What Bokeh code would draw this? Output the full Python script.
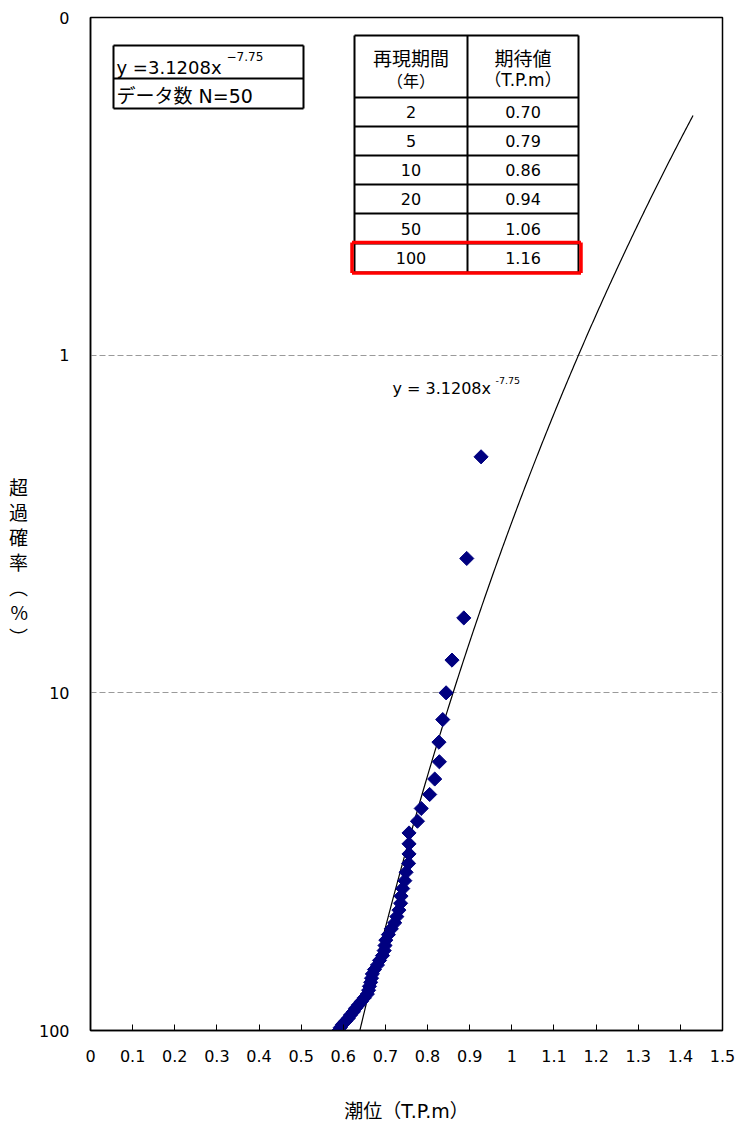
import numpy as np
from bokeh.plotting import figure
from bokeh.models import Range1d, FixedTicker, Label
from bokeh.embed import file_html
from bokeh.resources import INLINE

# ---------------- data ----------------
exceed_pct = [2, 4, 6, 8, 10, 12, 14, 16, 18, 20, 22, 24, 26, 28, 30, 32, 34, 36, 38, 40,
              42, 44, 46, 48, 50, 52, 54, 56, 58, 60, 62, 64, 66, 68, 70, 72, 74, 76, 78, 80,
              82, 84, 86, 88, 90, 92, 94, 96, 98, 100]
tide = [0.927, 0.893, 0.886, 0.858, 0.844, 0.836, 0.827, 0.828, 0.817, 0.805,
        0.785, 0.776, 0.756, 0.756, 0.756, 0.755, 0.749, 0.746, 0.741, 0.737,
        0.736, 0.732, 0.727, 0.722, 0.714, 0.707, 0.701, 0.699, 0.697, 0.693,
        0.686, 0.681, 0.674, 0.669, 0.667, 0.665, 0.662, 0.660, 0.657, 0.650,
        0.643, 0.636, 0.629, 0.624, 0.617, 0.612, 0.605, 0.598, 0.593, 0.589]
coef_a = 3.1208
coef_b = -7.75
curve_x_start = 0.60
curve_x_end = 1.43

return_period = ["2", "5", "10", "20", "50", "100"]
expected_level = ["0.70", "0.79", "0.86", "0.94", "1.06", "1.16"]
table_head = [["再現期間", "（年）"], ["期待値", "（T.P.m）"]]

x_ticks = [0.0, 0.1, 0.2, 0.3, 0.4, 0.5, 0.6, 0.7, 0.8, 0.9, 1.0, 1.1, 1.2, 1.3, 1.4, 1.5]
x_tick_labels = ["0", "0.1", "0.2", "0.3", "0.4", "0.5", "0.6", "0.7", "0.8", "0.9",
                 "1", "1.1", "1.2", "1.3", "1.4", "1.5"]
y_ticks = [0.1, 1, 10, 100]
y_tick_labels = ["0", "1", "10", "100"]

x_title = "潮位（T.P.m）"
y_title_chars = ["超", "過", "確", "率", "︵", "%", "︶"]
eq_main = "y =3.1208x"
eq_sup = "−7.75"
n_text = "データ数 N=50"
curve_main = "y = 3.1208x"
curve_sup = "-7.75"

JP = "Noto Sans CJK JP"
NUM = "DejaVu Sans"
MIX = "DejaVu Sans, Noto Sans CJK JP"

# ---------------- layout helpers (reference pixel -> data) ----------------
L, R, T, B = 90, 722, 17, 1030
def X(px):
    return (px - L) / (R - L) * 1.5
def Y(py):
    return 10 ** (-1 + 3 * (py - T) / (B - T))

p = figure(frame_width=632, frame_height=1013,
           x_range=Range1d(0, 1.5), y_range=Range1d(100, 0.1),
           y_axis_type="log", output_backend="svg", toolbar_location=None,
           min_border_left=90, min_border_right=16, min_border_top=17, min_border_bottom=97)
p.background_fill_color = "white"
p.border_fill_color = "white"
p.outline_line_color = "black"
p.outline_line_width = 1.5

# axes
p.xaxis.ticker = FixedTicker(ticks=x_ticks)
p.xaxis.major_label_overrides = {t: s for t, s in zip(x_ticks, x_tick_labels)}
p.yaxis.ticker = FixedTicker(ticks=y_ticks)
p.yaxis.major_label_overrides = {t: s for t, s in zip(y_ticks, y_tick_labels)}
for ax in (p.xaxis[0], p.yaxis[0]):
    ax.axis_line_color = "black"
    ax.axis_line_width = 1.5
    ax.major_tick_line_color = "black"
    ax.major_tick_in = 6
    ax.major_tick_out = 0
    ax.minor_tick_line_color = None
    ax.major_label_text_font = NUM
    ax.major_label_text_font_size = "16px"
    ax.major_label_text_color = "black"
    ax.axis_label_text_color = "black"
p.yaxis.major_tick_in = 0
p.xaxis.major_label_standoff = 19
p.yaxis.major_label_standoff = 21
p.xaxis.axis_label = x_title
p.xaxis.axis_label_text_font = MIX
p.xaxis.axis_label_text_font_size = "19px"
p.xaxis.axis_label_text_font_style = "normal"
p.xaxis.axis_label_standoff = 35

yax = p.yaxis[0]
yprops = yax.properties()
if "axis_label_orientation" in yprops:
    # leading ideographic-space lines push the upright column down to the reference position
    yax.axis_label = "\n".join(["\u3000", "\u3000", "\u3000"] + y_title_chars)
    yax.axis_label_orientation = "horizontal"
    if "axis_label_text_line_height" in yprops:
        yax.axis_label_text_line_height = 0.93
else:
    yax.axis_label = "超過確率（%）"
yax.axis_label_text_font = JP
yax.axis_label_text_font_size = "19px"
yax.axis_label_text_font_style = "normal"
yax.axis_label_standoff = 8

p.xgrid.visible = False
p.ygrid.ticker = FixedTicker(ticks=y_ticks)
p.ygrid.grid_line_color = "#9a9a9a"
p.ygrid.grid_line_dash = "6 3"
p.ygrid.grid_line_width = 1
p.ygrid.minor_grid_line_color = None

# trend curve
cx = np.linspace(curve_x_start, curve_x_end, 400)
cy = coef_a * cx ** coef_b
p.line(cx, cy, line_color="black", line_width=1.2)

# data points
p.scatter(tide, exceed_pct, marker="square", angle=np.pi / 4, size=10,
          fill_color="#000080", line_color="#000080")

def lab(x, y, text, font, size, align="left"):
    p.add_layout(Label(x=x, y=y, text=text, text_font=font, text_font_size=size,
                       text_color="black", text_baseline="middle", text_align=align))

# curve label
lab(X(392), Y(388), curve_main, NUM, "16px")
lab(X(495), Y(380), curve_sup, NUM, "9.5px")

# equation box
bx0, bx1, by0, bym, by1 = 113, 303, 45, 78, 108
p.segment(x0=[X(bx0), X(bx0), X(bx0), X(bx0), X(bx1)],
          y0=[Y(by0), Y(bym), Y(by1), Y(by0), Y(by0)],
          x1=[X(bx1), X(bx1), X(bx1), X(bx0), X(bx1)],
          y1=[Y(by0), Y(bym), Y(by1), Y(by1), Y(by1)],
          line_color="black", line_width=2)
lab(X(116), Y(67), eq_main, NUM, "18px")
lab(X(226), Y(56), eq_sup, NUM, "12px")
lab(X(116), Y(95), n_text, MIX, "19px")

# return-period table
cols = [354, 467, 578]
rows = [35, 97, 126, 155, 184, 213, 243, 272]
sx0, sy0, sx1, sy1 = [], [], [], []
for r in rows:
    sx0.append(X(cols[0])); sx1.append(X(cols[-1])); sy0.append(Y(r)); sy1.append(Y(r))
for c in cols:
    sx0.append(X(c)); sx1.append(X(c)); sy0.append(Y(rows[0])); sy1.append(Y(rows[-1]))
p.segment(x0=sx0, y0=sy0, x1=sx1, y1=sy1, line_color="black", line_width=2)

ccx = [(cols[0] + cols[1]) / 2, (cols[1] + cols[2]) / 2]
head2_font = [(JP, "16px"), (MIX, "17px")]
for j, (h1, h2) in enumerate(table_head):
    lab(X(ccx[j]), Y(57), h1, JP, "19px", "center")
    lab(X(ccx[j]), Y(79), h2, head2_font[j][0], head2_font[j][1], "center")
for i, (rp, ev) in enumerate(zip(return_period, expected_level)):
    yc = (rows[i + 1] + rows[i + 2]) / 2
    lab(X(ccx[0]), Y(yc), rp, NUM, "16px", "center")
    lab(X(ccx[1]), Y(yc), ev, NUM, "16px", "center")

# red highlight box on 100-year row
rx0, rx1, ry0, ry1 = 351.5, 580.5, 242, 272.5
p.segment(x0=[X(rx0), X(rx0), X(rx0), X(rx1)], y0=[Y(ry0), Y(ry1), Y(ry0), Y(ry0)],
          x1=[X(rx1), X(rx1), X(rx0), X(rx1)], y1=[Y(ry0), Y(ry1), Y(ry1), Y(ry1)],
          line_color="#ff0000", line_width=3.5)

open("out.html", "w").write(file_html(p, INLINE))
